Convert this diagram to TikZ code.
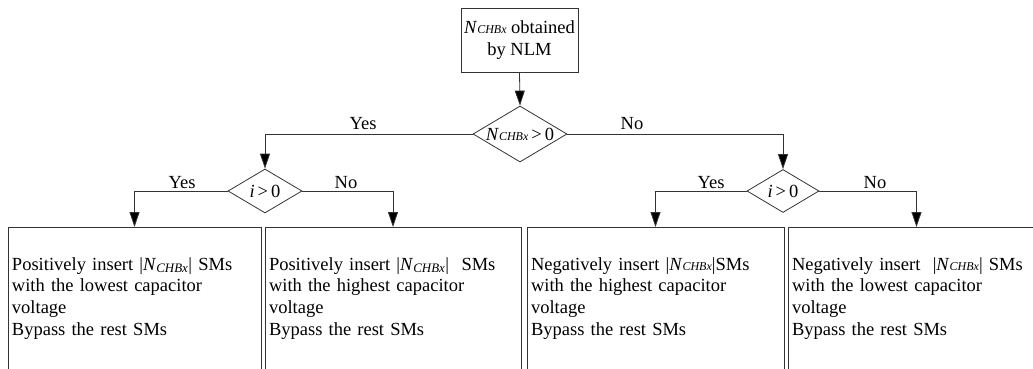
\documentclass[tikz,border=0pt]{standalone}
\usepackage{fontspec}
\setmainfont{Liberation Serif}
\usetikzlibrary{shapes.geometric,arrows.meta}
% N with the CHBx subscript, lowered and flat variants
\newcommand{\NCHB}{\textit{N}\textsubscript{\textit{CHBx}}}
\newcommand{\NCHBf}{\textit{N}{\fontsize{12}{12}\selectfont\textit{CHBx}}}
\begin{document}
\begin{tikzpicture}[x=1pt,y=-1pt,
  every node/.style={font=\fontsize{18.5}{21.7}\selectfont},
  ln/.style={draw=black!80, line width=0.8pt},
  startbox/.style={ln, rectangle, align=center, minimum width=117pt, minimum height=64pt, inner sep=2pt},
  stepbox/.style={ln, rectangle, anchor=north, inner xsep=4pt, inner ysep=30pt, text depth=95pt, align=left},
  decide/.style={ln, diamond, inner sep=0pt},
  lbl/.style={inner sep=0pt, anchor=base},
  arr/.style={draw=black!80, line width=0.8pt, -{Triangle[length=15pt,width=10pt,fill=black]}}]
\clip (0,0) rectangle (1033,369);

% start
\node[startbox] (s) at (519.5,40) {\NCHBf{} obtained\\by NLM};

% decisions
\node[decide, minimum width=94pt, minimum height=56pt] (d0) at (520,134)
  {\makebox[0pt]{\NCHBf\,>\,0}};
\node[decide, minimum width=74pt, minimum height=44pt] (d1) at (265,191)
  {\makebox[0pt]{\textit{i}\,>\,0}};
\node[decide, minimum width=72pt, minimum height=43pt] (d2) at (783,191)
  {\makebox[0pt]{\textit{i}\,>\,0}};

% actions
\node[stepbox, text width=245pt] (b1) at (134.5,227)
  {Positively insert |\NCHB| SMs\\with the lowest capacitor\\voltage\\Bypass the rest SMs};
\node[stepbox, text width=248pt] (b2) at (393,227)
  {Positively insert |\NCHB|\ \ SMs\\with the highest capacitor\\voltage\\Bypass the rest SMs};
\node[stepbox, text width=249pt] (b3) at (655.5,227)
  {Negatively insert |\NCHBf|SMs\\with the highest capacitor\\voltage\\Bypass the rest SMs};
\node[stepbox, text width=249pt] (b4) at (916.5,227)
  {Negatively insert\ \ |\NCHBf| SMs\\with the lowest capacitor\\voltage\\Bypass the rest SMs};

% connectors
\draw[arr] (s.south) -- (d0.north);
\draw[arr] (d0.west) -| (d1.north);
\draw[arr] (d0.east) -| (d2.north);
\draw[arr] (d1.west) -| (b1.north);
\draw[arr] (d1.east) -| (b2.north);
\draw[arr] (d2.west) -| (b3.north);
\draw[arr] (d2.east) -| (b4.north);

% branch labels
\node[lbl] (y0) at (363,129) {Yes};
\node[lbl] (n0) at (632,129) {No};
\node[lbl] (y1) at (182,188) {Yes};
\node[lbl] (n1) at (346,188) {No};
\node[lbl] (y2) at (711,188) {Yes};
\node[lbl] (n2) at (875,188) {No};
\end{tikzpicture}
\end{document}
